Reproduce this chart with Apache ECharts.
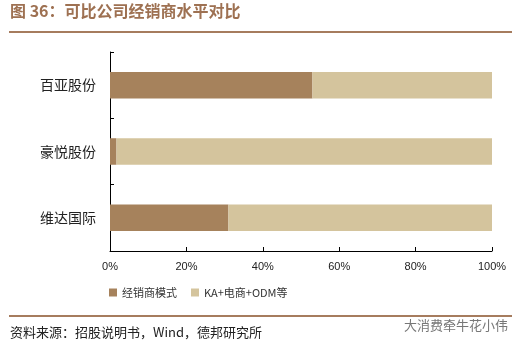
<!DOCTYPE html>
<html>
<head>
<meta charset="utf-8">
<script src="https://cdn.jsdelivr.net/npm/echarts@6/dist/echarts.min.js"></script>
<style>
  html, body { margin: 0; padding: 0; background: #fff; }
  #chart { width: 529px; height: 351px; }
</style>
</head>
<body>
<div id="chart"></div>
<script>
  // 数据
  const companies = ['百亚股份', '豪悦股份', '维达国际'];
  const dealerShare = [53, 1.7, 31];
  const otherShare = [47, 98.3, 69];
  const seriesNames = ['经销商模式', 'KA+电商+ODM等'];

  const cjk = '"Noto Sans CJK SC", sans-serif';
  const myChart = echarts.init(document.getElementById('chart'));
  myChart.setOption({
    animation: false,
    grid: { left: 110, right: 37, top: 52, bottom: 100 },
    legend: {
      data: seriesNames,
      top: 282,
      left: 104,
      itemWidth: 8,
      itemHeight: 8,
      itemGap: 14,
      icon: 'rect',
      textStyle: { fontFamily: cjk, fontSize: 11, color: '#333' }
    },
    xAxis: {
      type: 'value',
      min: 0,
      max: 100,
      interval: 20,
      axisLine: { show: true, lineStyle: { color: '#000' } },
      axisTick: { show: true, inside: true, length: 4, lineStyle: { color: '#000' } },
      splitLine: { show: false },
      axisLabel: {
        formatter: '{value}%',
        fontFamily: 'Arial, "Liberation Sans", sans-serif',
        fontSize: 11,
        color: '#222',
        margin: 10
      }
    },
    yAxis: {
      type: 'category',
      data: companies,
      inverse: true,
      axisLine: { lineStyle: { color: '#000' } },
      axisTick: { show: true, inside: true, length: 4, lineStyle: { color: '#000' } },
      axisLabel: { fontFamily: cjk, fontSize: 14, color: '#222', margin: 14 }
    },
    series: [
      {
        name: seriesNames[0],
        type: 'bar',
        stack: 'total',
        barWidth: '40%',
        data: dealerShare,
        itemStyle: { color: '#A6825C' }
      },
      {
        name: seriesNames[1],
        type: 'bar',
        stack: 'total',
        barWidth: '40%',
        data: otherShare,
        itemStyle: { color: '#D4C49D' }
      }
    ],
    graphic: [
      {
        type: 'text',
        left: 10,
        top: 3,
        style: { text: '图 36：可比公司经销商水平对比', fontFamily: cjk, fontSize: 16, fontWeight: 'bold', fill: '#9E7152' }
      },
      {
        type: 'line',
        shape: { x1: 9, y1: 32, x2: 512, y2: 32 },
        style: { stroke: '#A67C5E', lineWidth: 2 }
      },
      {
        type: 'line',
        shape: { x1: 9, y1: 316, x2: 512, y2: 316 },
        style: { stroke: '#A67C5E', lineWidth: 2 }
      },
      {
        type: 'text',
        left: 10,
        top: 326,
        style: { text: '资料来源：招股说明书，Wind，德邦研究所', fontFamily: cjk, fontSize: 13, fill: '#222' }
      },
      {
        type: 'text',
        left: 404,
        top: 319,
        style: { text: '大消费牵牛花小伟', fontFamily: cjk, fontSize: 13, fill: '#777' }
      }
    ]
  });
</script>
</body>
</html>
